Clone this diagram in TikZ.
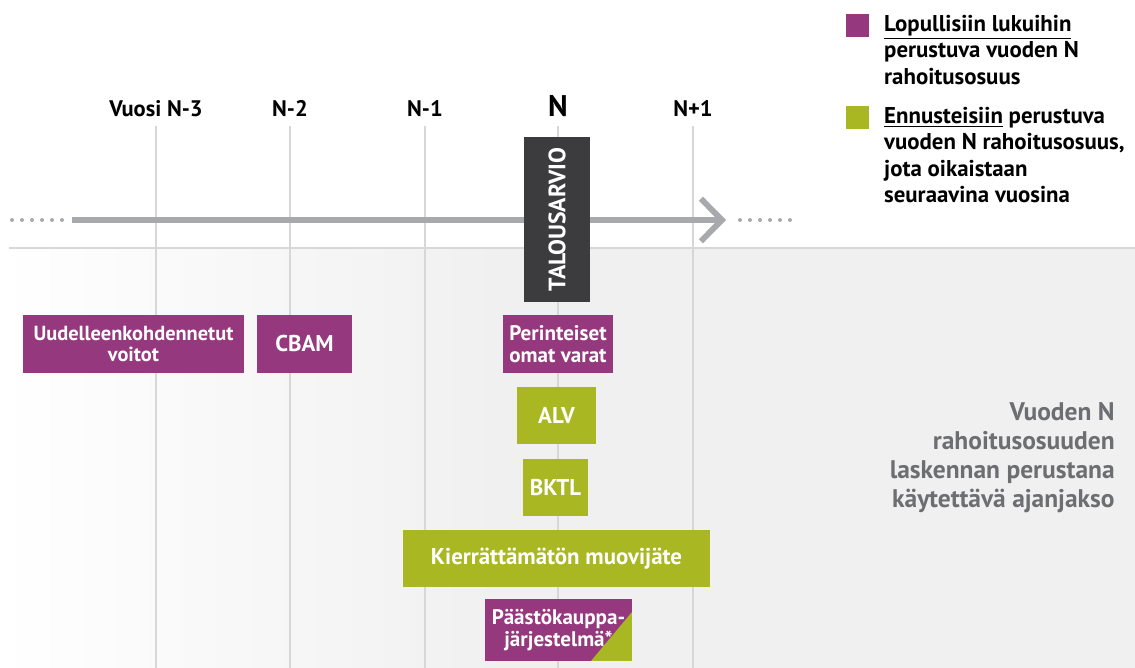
\documentclass[tikz,border=0pt]{standalone}
\usepackage{fontspec}
\setmainfont{PT Sans}
\usetikzlibrary{arrows.meta}
\usetikzlibrary{positioning}
\definecolor{purp}{HTML}{95387E}
\definecolor{lime}{HTML}{A9B723}
\definecolor{dark}{HTML}{3C3C3E}
\definecolor{axis}{HTML}{A7A9AC}
\definecolor{grid}{HTML}{D6D7D8}
\definecolor{band}{HTML}{F0F0F0}
\definecolor{note}{HTML}{6D6E71}

\begin{document}
\begin{tikzpicture}[x=0.02cm, y=-0.02cm,
    font=\bfseries\fontsize{13}{14.9}\selectfont,
    year/.style={anchor=base, inner sep=0pt, font=\bfseries\fontsize{12.8}{14}\selectfont},
    box/.style={fill=#1, text=white, align=center, inner sep=0pt, minimum height=1.14cm,
        font=\bfseries\fontsize{12}{12.5}\selectfont},
    key/.style={fill=#1, minimum size=0.46cm, inner sep=0pt},
    legend/.style={anchor=north west, align=left, inner sep=0pt}]
    \useasboundingbox (0,0) rectangle (1135,668);
    \shade[left color=white, right color=band] (0,248) rectangle (500,668);
    \fill[band] (500,248) rectangle (1135,668);
    \draw[grid, line width=0.6pt] (9,248) -- (1135,248);

    \node[year] (y3) at (156,117) {Vuosi N-3};
    \node[year] (y2) at (290,117) {N-2};
    \node[year] (y1) at (425,117) {N-1};
    \node[year, font=\bfseries\fontsize{17}{20}\selectfont] (y0) at (558,117) {N};
    \node[year] (y4) at (693,117) {N+1};
    \foreach \y in {y3,y2,y1,y0,y4}
        \draw[grid, line width=0.6pt] (\y.base |- 0,126) -- (\y.base |- 0,668);

    \coordinate (t0) at (72,220);
    \coordinate (t1) at (726,220);
    \draw[axis, line width=3.3pt, -{Straight Barb[length=0.42cm, width=0.85cm]}] (t0) -- (t1);
    \foreach \i in {0,...,5} {
        \fill[axis] (12+10*\i,220) circle (0.04cm);
        \fill[axis] (740+10*\i,220) circle (0.04cm);
    }

    \node[box=dark, rotate=90, minimum width=3.3cm, minimum height=1.32cm,
        font=\bfseries\fontsize{13.5}{14}\selectfont] (ta) at (557,219.5) {TALOUSARVIO};

    \node[box=purp, minimum width=4.42cm, minimum height=1.16cm,
        font=\bfseries\fontsize{11.6}{12.5}\selectfont] (uv) at (133.5,344) {Uudelleenkohdennetut\\voitot};
    \node[box=purp, minimum width=1.9cm, minimum height=1.16cm,
        font=\bfseries\fontsize{13}{14}\selectfont] (cb) at (304.5,344) {CBAM};
    \node[box=purp, minimum width=2.2cm, minimum height=1.16cm] (po) at (558,344) {Perinteiset\\omat varat};
    \node[box=lime, minimum width=1.58cm, font=\bfseries\fontsize{13}{14}\selectfont] (alv) at (556.5,415.5) {ALV};
    \node[box=lime, minimum width=1.3cm, font=\bfseries\fontsize{13}{14}\selectfont] (bk) at (555.5,487.5) {BKTL};
    \node[box=lime, minimum width=6.14cm, font=\bfseries\fontsize{13}{14}\selectfont] (km) at (556.5,558.5) {Kierrättämätön muovijäte};
    \node[box=purp, minimum width=2.94cm, minimum height=1.24cm,
        path picture={\fill[lime] (path picture bounding box.south east) -- ++(-41,0) -- ++(41,-49) -- cycle;}]
        (pk) at (558.5,630) {Päästökauppa-\\järjestelmä*};

    \node[key=purp] (k1) at (857,25.5) {};
    \node[legend, right=0.3cm of k1.north east, anchor=north west, yshift=-0.03cm] (l1)
        {\underline{Lopullisiin lukuihin}\\perustuva vuoden N\\rahoitusosuus};
    \node[key=lime] (k2) at (857,117.5) {};
    \node[legend, right=0.3cm of k2.north east, anchor=north west, yshift=-0.03cm] (l2)
        {\underline{Ennusteisiin} perustuva\\vuoden N rahoitusosuus,\\jota oikaistaan\\seuraavina vuosina};

    \node[anchor=north east, align=right, inner sep=0pt, text=note,
        font=\bfseries\fontsize{14.5}{16.6}\selectfont] (nt) at (1115,402)
        {Vuoden N\\rahoitusosuuden\\laskennan perustana\\käytettävä ajanjakso};
\end{tikzpicture}
\end{document}
